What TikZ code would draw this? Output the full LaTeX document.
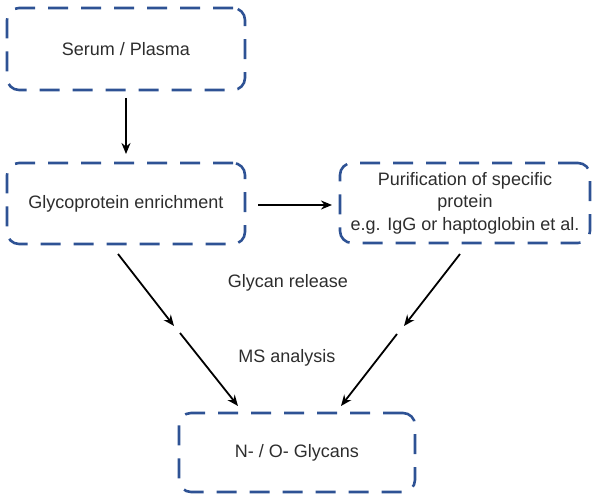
\documentclass[tikz,border=0pt]{standalone}
\usepackage{fontspec}
\setmainfont{Liberation Sans}
\usetikzlibrary{arrows.meta}
\definecolor{boxblue}{RGB}{46,82,148}
\definecolor{txt}{RGB}{45,45,45}
\begin{document}
\begin{tikzpicture}[x=1pt,y=-1pt,
  stepbox/.style={draw=boxblue, line width=2.6pt, dash pattern=on 20pt off 13pt,
    rounded corners=12pt, align=center, text=txt, inner sep=0pt,
    font=\fontsize{18}{22.5}\selectfont},
  lbl/.style={text=txt, font=\fontsize{18}{22.5}\selectfont, inner sep=0pt},
  arr/.style={draw=black, line width=1.8pt, -{Stealth[length=11pt,width=9pt]}}]
\useasboundingbox (0,0) rectangle (600,497);
\node[stepbox, minimum width=238pt, minimum height=82pt] (serum) at (126,49) {Serum / Plasma};
\node[stepbox, minimum width=238pt, minimum height=81pt] (enrich) at (126,203.5) {Glycoprotein enrichment};
\node[stepbox, minimum width=250pt, minimum height=80pt] (purif) at (465,203) {Purification of specific\\protein\\e.g. IgG or haptoglobin et al.};
\node[stepbox, minimum width=236pt, minimum height=79pt] (glycans) at (297,452.5) {N- / O- Glycans};
\node[lbl] (release) at (288,283) {Glycan release};
\node[lbl] (ms) at (287,358) {MS analysis};
\coordinate (l1a) at (118,254);
\coordinate (l1b) at (174,326);
\coordinate (l2a) at (180,333);
\coordinate (l2b) at (238,406);
\coordinate (r1a) at (460,254);
\coordinate (r1b) at (404,326);
\coordinate (r2a) at (397,334);
\coordinate (r2b) at (341,406);
\draw[arr] (126,98) -- (126,154);
\draw[arr] (258,205) -- (332,205);
\draw[arr] (l1a) -- (l1b);
\draw[arr] (l2a) -- (l2b);
\draw[arr] (r1a) -- (r1b);
\draw[arr] (r2a) -- (r2b);
\end{tikzpicture}
\end{document}
